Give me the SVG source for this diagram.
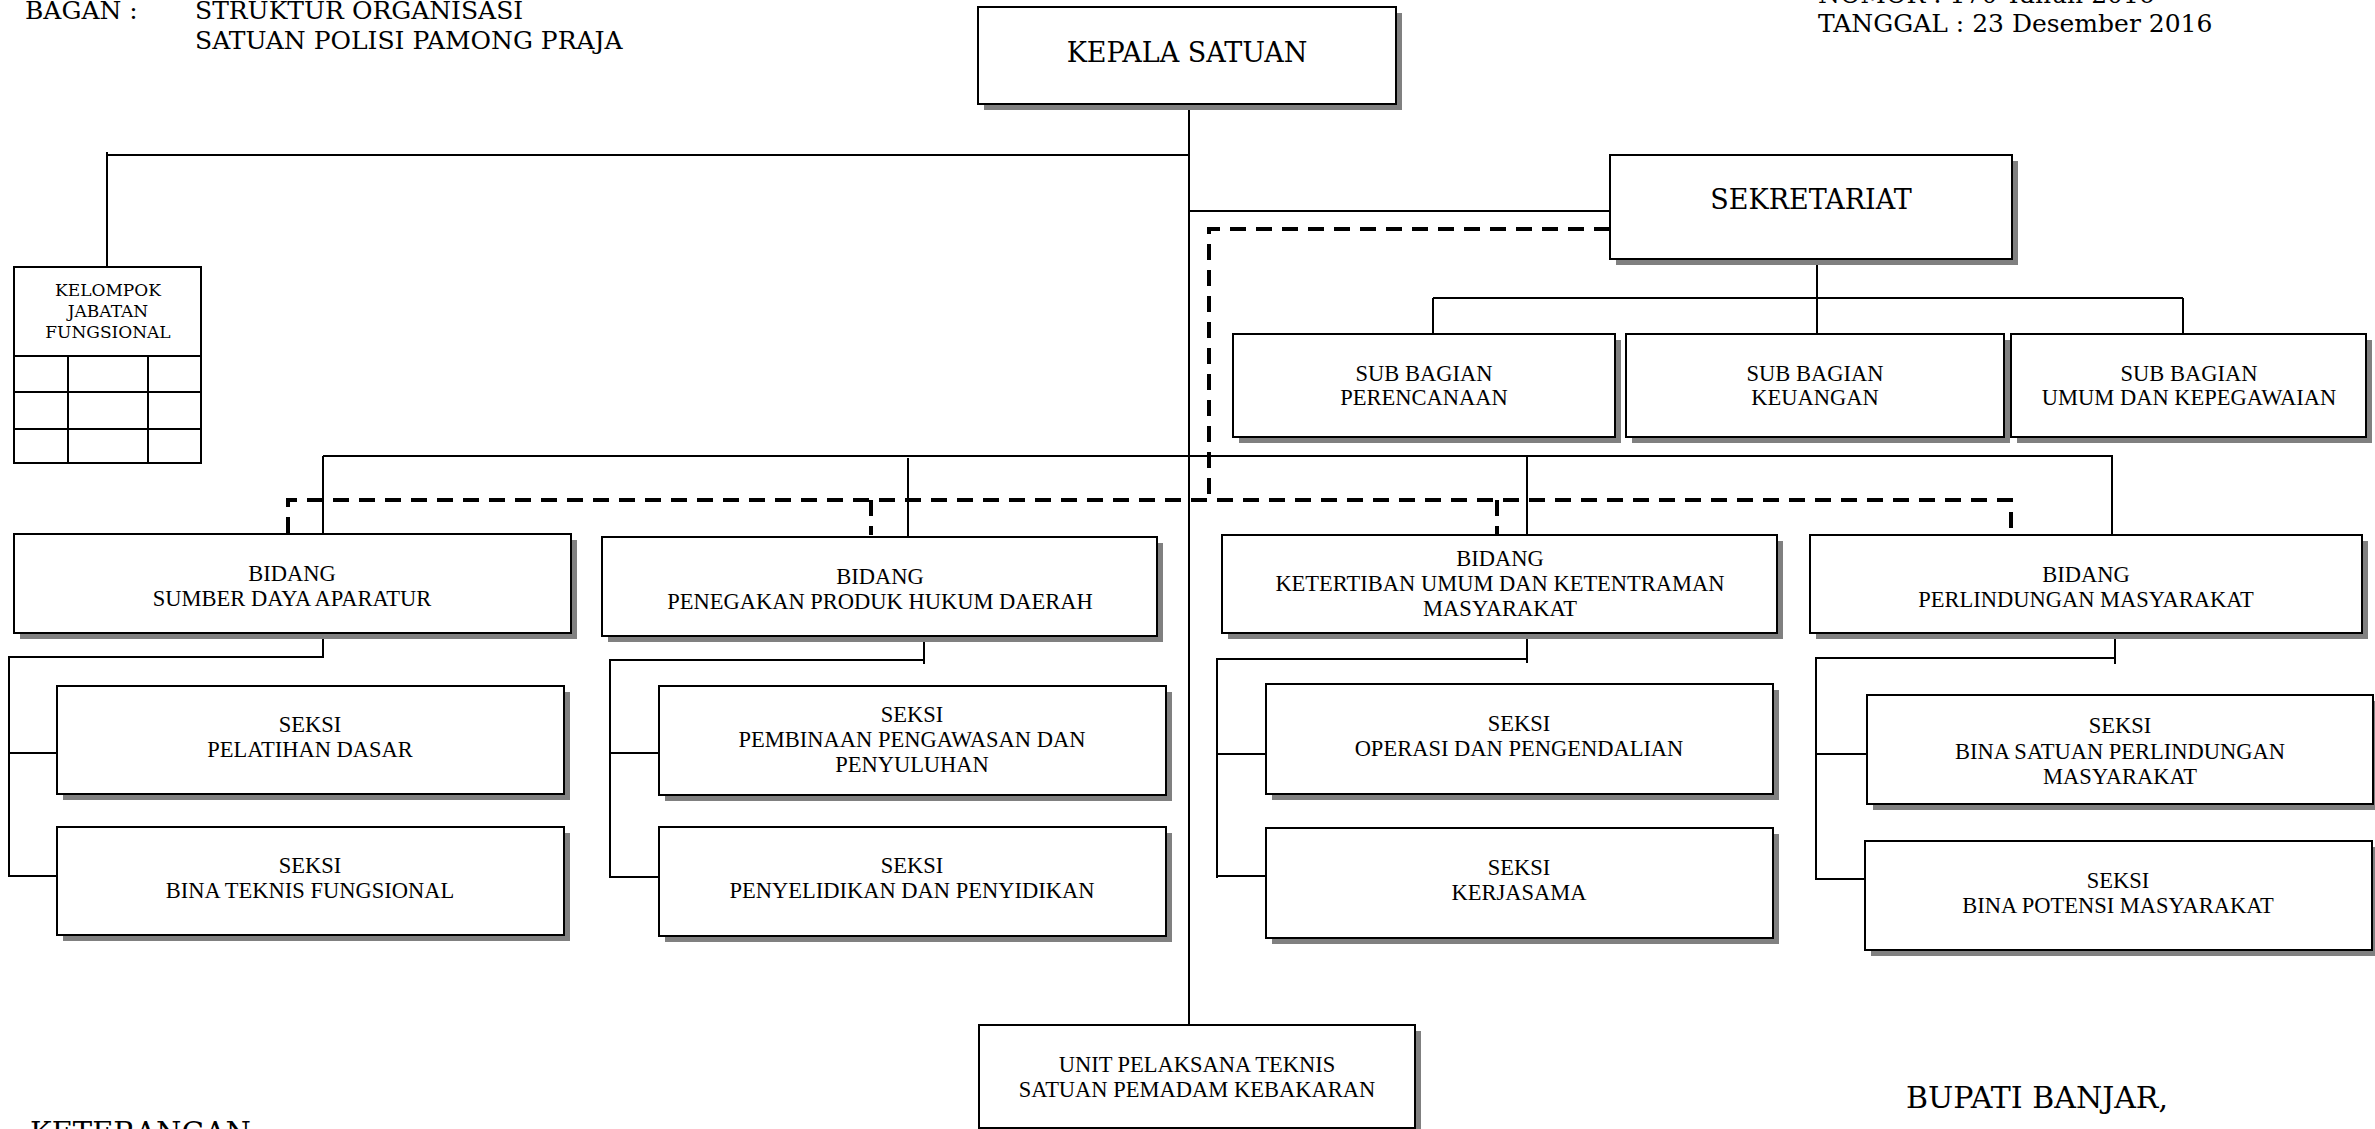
<svg xmlns="http://www.w3.org/2000/svg" width="2375" height="1129" viewBox="0 0 2375 1129">
<style>
.bg{fill:#fff}
.sh{fill:#808080}
.bx{fill:#fff;stroke:#000;stroke-width:2}
.ln{stroke:#000;stroke-width:2;fill:none}
.ds{stroke:#000;stroke-width:4;fill:none;stroke-dasharray:16 10}
.hd{font-family:"DejaVu Serif",serif;font-size:25px;fill:#000}
.big{font-family:"DejaVu Serif",serif;font-size:27px;fill:#000;text-anchor:middle}
.t{font-family:"Liberation Serif",serif;font-size:22.5px;fill:#000;text-anchor:middle}
.k{font-family:"DejaVu Serif",serif;font-size:17px;fill:#000;text-anchor:middle}
</style>
<rect class="bg" x="0" y="0" width="2375" height="1129"/>

<g id="header">
<text class="hd" x="25" y="19">BAGAN :</text>
<text class="hd" x="195" y="19">STRUKTUR ORGANISASI</text>
<text class="hd" x="195" y="49">SATUAN POLISI PAMONG PRAJA</text>
<text class="hd" x="1818" y="3">NOMOR : 170 Tahun 2016</text>
<text class="hd" x="1818" y="32">TANGGAL : 23 Desember 2016</text>
<text class="hd" x="1906" y="1108" style="font-size:30px">BUPATI BANJAR,</text>
<text class="hd" x="30" y="1143" style="font-size:29px">KETERANGAN</text>
</g>

<g id="connectors">
<line class="ln" x1="1189" y1="104" x2="1189" y2="1025"/>
<line class="ln" x1="107" y1="155" x2="1189" y2="155"/>
<line class="ln" x1="107" y1="152" x2="107" y2="267"/>
<line class="ln" x1="1189" y1="211" x2="1610" y2="211"/>
<line class="ln" x1="1817" y1="259" x2="1817" y2="334"/>
<line class="ln" x1="1433" y1="298" x2="2183" y2="298"/>
<line class="ln" x1="1433" y1="298" x2="1433" y2="334"/>
<line class="ln" x1="2183" y1="298" x2="2183" y2="336"/>
<line class="ln" x1="323" y1="456" x2="2113" y2="456"/>
<line class="ln" x1="323" y1="456" x2="323" y2="534"/>
<line class="ln" x1="908" y1="458" x2="908" y2="537"/>
<line class="ln" x1="1527" y1="456" x2="1527" y2="535"/>
<line class="ln" x1="2112" y1="456" x2="2112" y2="535"/>
<path class="ds" d="M1610,229 H1209 V500"/>
<path class="ds" d="M288,533 V500 H2011 V533"/>
<path class="ds" d="M871,500 V535"/>
<path class="ds" d="M1497,500 V535"/>
<path class="ln" d="M323,633 V657 H9 V876 H57 M9,753 H57"/>
<path class="ln" d="M924,636 V664 M924,660 H610 V877 H659 M610,753 H659"/>
<path class="ln" d="M1527,633 V663 M1527,659 H1217 V878 M1217,876 H1266 M1217,754 H1266"/>
<path class="ln" d="M2115,637 V664 M2115,658 H1816 V879 H1865 M1816,754 H1867"/>
</g>

<g id="kepala">
<rect class="sh" x="984" y="13" width="418" height="97"/>
<rect class="bx" x="978" y="7" width="418" height="97"/>
<text class="big" x="1187" y="62">KEPALA SATUAN</text>
</g>

<g id="kelompok">
<rect class="bx" x="14" y="267" width="187" height="196"/>
<path class="ln" d="M14,356 H201 M14,392 H201 M14,429 H201 M68,356 V463 M148,356 V463"/>
<text class="k" x="108" y="296">KELOMPOK</text>
<text class="k" x="108" y="317">JABATAN</text>
<text class="k" x="108" y="338">FUNGSIONAL</text>
</g>

<g id="sekretariat">
<rect class="sh" x="1616" y="161" width="402" height="104"/>
<rect class="bx" x="1610" y="155" width="402" height="104"/>
<text class="big" x="1811" y="209">SEKRETARIAT</text>
</g>

<g id="sub-perencanaan">
<rect class="sh" x="1239" y="340" width="382" height="103"/>
<rect class="bx" x="1233" y="334" width="382" height="103"/>
<text class="t" x="1424" y="381">SUB BAGIAN</text>
<text class="t" x="1424" y="405">PERENCANAAN</text>
</g>
<g id="sub-keuangan">
<rect class="sh" x="1632" y="340" width="378" height="103"/>
<rect class="bx" x="1626" y="334" width="378" height="103"/>
<text class="t" x="1815" y="381">SUB BAGIAN</text>
<text class="t" x="1815" y="405">KEUANGAN</text>
</g>
<g id="sub-umum">
<rect class="sh" x="2017" y="340" width="355" height="103"/>
<rect class="bx" x="2011" y="334" width="355" height="103"/>
<text class="t" x="2189" y="381">SUB BAGIAN</text>
<text class="t" x="2189" y="405">UMUM DAN KEPEGAWAIAN</text>
</g>

<g id="bidang-sda">
<rect class="sh" x="20" y="540" width="557" height="99"/>
<rect class="bx" x="14" y="534" width="557" height="99"/>
<text class="t" x="292" y="581">BIDANG</text>
<text class="t" x="292" y="606">SUMBER DAYA APARATUR</text>
</g>
<g id="bidang-penegakan">
<rect class="sh" x="608" y="543" width="555" height="99"/>
<rect class="bx" x="602" y="537" width="555" height="99"/>
<text class="t" x="880" y="584">BIDANG</text>
<text class="t" x="880" y="609">PENEGAKAN PRODUK HUKUM DAERAH</text>
</g>
<g id="bidang-ketertiban">
<rect class="sh" x="1228" y="541" width="555" height="98"/>
<rect class="bx" x="1222" y="535" width="555" height="98"/>
<text class="t" x="1500" y="566">BIDANG</text>
<text class="t" x="1500" y="591">KETERTIBAN UMUM DAN KETENTRAMAN</text>
<text class="t" x="1500" y="616">MASYARAKAT</text>
</g>
<g id="bidang-perlindungan">
<rect class="sh" x="1816" y="541" width="552" height="98"/>
<rect class="bx" x="1810" y="535" width="552" height="98"/>
<text class="t" x="2086" y="582">BIDANG</text>
<text class="t" x="2086" y="607">PERLINDUNGAN MASYARAKAT</text>
</g>

<g id="seksi-pelatihan">
<rect class="sh" x="63" y="692" width="507" height="108"/>
<rect class="bx" x="57" y="686" width="507" height="108"/>
<text class="t" x="310" y="732">SEKSI</text>
<text class="t" x="310" y="757">PELATIHAN DASAR</text>
</g>
<g id="seksi-teknis">
<rect class="sh" x="63" y="833" width="507" height="108"/>
<rect class="bx" x="57" y="827" width="507" height="108"/>
<text class="t" x="310" y="873">SEKSI</text>
<text class="t" x="310" y="898">BINA TEKNIS FUNGSIONAL</text>
</g>
<g id="seksi-pembinaan">
<rect class="sh" x="665" y="692" width="507" height="109"/>
<rect class="bx" x="659" y="686" width="507" height="109"/>
<text class="t" x="912" y="722">SEKSI</text>
<text class="t" x="912" y="747">PEMBINAAN PENGAWASAN DAN</text>
<text class="t" x="912" y="772">PENYULUHAN</text>
</g>
<g id="seksi-penyelidikan">
<rect class="sh" x="665" y="833" width="507" height="109"/>
<rect class="bx" x="659" y="827" width="507" height="109"/>
<text class="t" x="912" y="873">SEKSI</text>
<text class="t" x="912" y="898">PENYELIDIKAN DAN PENYIDIKAN</text>
</g>
<g id="seksi-operasi">
<rect class="sh" x="1272" y="690" width="507" height="110"/>
<rect class="bx" x="1266" y="684" width="507" height="110"/>
<text class="t" x="1519" y="731">SEKSI</text>
<text class="t" x="1519" y="756">OPERASI DAN PENGENDALIAN</text>
</g>
<g id="seksi-kerjasama">
<rect class="sh" x="1272" y="834" width="507" height="110"/>
<rect class="bx" x="1266" y="828" width="507" height="110"/>
<text class="t" x="1519" y="875">SEKSI</text>
<text class="t" x="1519" y="900">KERJASAMA</text>
</g>
<g id="seksi-bina-satuan">
<rect class="sh" x="1873" y="701" width="506" height="109"/>
<rect class="bx" x="1867" y="695" width="506" height="109"/>
<text class="t" x="2120" y="733">SEKSI</text>
<text class="t" x="2120" y="759">BINA SATUAN PERLINDUNGAN</text>
<text class="t" x="2120" y="784">MASYARAKAT</text>
</g>
<g id="seksi-bina-potensi">
<rect class="sh" x="1871" y="847" width="507" height="109"/>
<rect class="bx" x="1865" y="841" width="507" height="109"/>
<text class="t" x="2118" y="888">SEKSI</text>
<text class="t" x="2118" y="913">BINA POTENSI MASYARAKAT</text>
</g>

<g id="unit-pelaksana">
<rect class="sh" x="985" y="1031" width="436" height="103"/>
<rect class="bx" x="979" y="1025" width="436" height="103"/>
<text class="t" x="1197" y="1072">UNIT PELAKSANA TEKNIS</text>
<text class="t" x="1197" y="1097">SATUAN PEMADAM KEBAKARAN</text>
</g>
</svg>
